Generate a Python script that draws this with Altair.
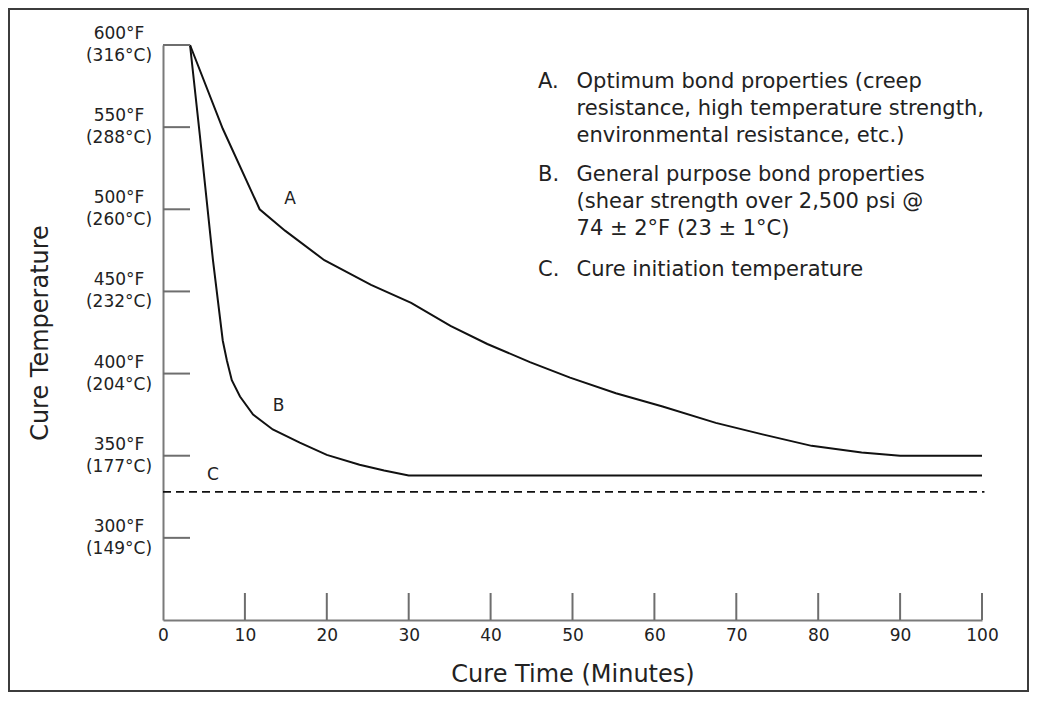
import altair as alt
import pandas as pd

# ---- data ----
time_a = [3.3, 7.3, 11.8, 14.9, 19.7, 25.4, 30.3, 35.1, 39.6, 44.8, 49.7, 55.3, 61.0, 67.5, 73.2, 79.2, 85.3, 90.0, 100.0]
temp_a = [600, 549, 500, 487, 469, 454, 443, 429, 418, 407, 397.5, 388, 380, 370, 363, 356, 352, 350, 350]

time_b = [3.3, 4.5, 6.1, 7.3, 7.8, 8.4, 9.4, 11.0, 13.4, 16.7, 20.0, 24.0, 27.0, 30.0, 100.0]
temp_b = [600, 545, 469, 420, 408, 396, 386, 375, 366, 358, 350.5, 344.5, 341, 338, 338]

cure_initiation_f = [328]

temp_ticks_f = [300, 350, 400, 450, 500, 550, 600]
temp_ticks_c = [149, 177, 204, 232, 260, 288, 316]
time_ticks = [0, 10, 20, 30, 40, 50, 60, 70, 80, 90, 100]

curve_labels = ["A", "B", "C"]
curve_label_time = [15.5, 14.1, 6.1]
curve_label_temp = [506, 380, 338]

legend_keys = ["A.", "B.", "C."]
legend_texts = [
    "Optimum bond properties (creep\nresistance, high temperature strength,\nenvironmental resistance, etc.)",
    "General purpose bond properties\n(shear strength over 2,500 psi @\n74 \u00b1 2\u00b0F (23 \u00b1 1\u00b0C)",
    "Cure initiation temperature",
]
legend_temp = [584, 527.5, 470]
legend_key_time = 45.8
legend_text_time = 50.5

# ---- tables ----
curves = pd.concat([
    pd.DataFrame({"time": time_a, "temp": temp_a, "curve": "A"}),
    pd.DataFrame({"time": time_b, "temp": temp_b, "curve": "B"}),
])
ytick_df = pd.DataFrame({
    "temp": temp_ticks_f,
    "label": [f"{f}\u00b0F\n({c}\u00b0C)" for f, c in zip(temp_ticks_f, temp_ticks_c)],
})
xtick_df = pd.DataFrame({"time": time_ticks[1:]})
clabel_df = pd.DataFrame({"time": curve_label_time, "temp": curve_label_temp, "label": curve_labels})
legend_df = pd.DataFrame({"key": legend_keys, "text": legend_texts, "temp": legend_temp,
                          "kt": [legend_key_time] * 3, "tt": [legend_text_time] * 3})
dash_df = pd.DataFrame({"temp": cure_initiation_f, "x0": [0], "x1": [100.3]})
frame_df = pd.DataFrame({"f": [0]})

W, H = 819, 575
PAD = {"left": 155, "top": 37, "right": 47, "bottom": 72}
FONT = "DejaVu Sans"
TXT = "#222222"

xscale = alt.Scale(domain=[0, 100], nice=False, zero=False)
yscale = alt.Scale(domain=[250, 600], nice=False, zero=False)

x_axis = alt.Axis(values=time_ticks, ticks=False, grid=False, domainColor="#7a7a7a", domainWidth=2,
                  labelFont=FONT, labelFontSize=17, labelColor=TXT, labelPadding=7, labelBaseline="top",
                  labelFlush=False,
                  title="Cure Time (Minutes)", titleFont=FONT, titleFontSize=24, titleFontWeight="normal",
                  titleColor=TXT, titleY=54, titleBaseline="middle")
y_axis = alt.Axis(ticks=False, labels=False, grid=False, domainColor="#7a7a7a", domainWidth=2,
                  title="Cure Temperature", titleFont=FONT, titleFontSize=24, titleFontWeight="normal",
                  titleColor=TXT, titleX=-123, titleY=H / 2, titleAngle=270, titleAlign="center",
                  titleBaseline="middle")

lines = alt.Chart(curves).mark_line(color="#111111", strokeWidth=2).encode(
    x=alt.X("time:Q", scale=xscale, axis=x_axis),
    y=alt.Y("temp:Q", scale=yscale, axis=y_axis),
    detail="curve:N",
)

dash = alt.Chart(dash_df).mark_rule(color="#111111", strokeWidth=1.6, strokeDash=[8, 5]).encode(
    x=alt.X("x0:Q", scale=xscale), x2="x1:Q", y=alt.Y("temp:Q", scale=yscale)
)

yticks = alt.Chart(ytick_df).mark_rule(color="#6e6e6e", strokeWidth=2).encode(
    y=alt.Y("temp:Q", scale=yscale), x=alt.value(0), x2=alt.value(27)
)
xticks = alt.Chart(xtick_df).mark_rule(color="#6e6e6e", strokeWidth=2).encode(
    x=alt.X("time:Q", scale=xscale), y=alt.value(H), y2=alt.value(H - 27)
)
ylabels = alt.Chart(ytick_df).mark_text(font=FONT, fontSize=17, color=TXT, align="center",
                                        baseline="middle", lineBreak="\n", lineHeight=22, dy=-11).encode(
    y=alt.Y("temp:Q", scale=yscale), x=alt.value(-44), text="label:N"
)
clabels = alt.Chart(clabel_df).mark_text(font=FONT, fontSize=17, color=TXT, align="center",
                                         baseline="middle").encode(
    x=alt.X("time:Q", scale=xscale), y=alt.Y("temp:Q", scale=yscale), text="label:N"
)
lkeys = alt.Chart(legend_df).mark_text(font=FONT, fontSize=21, color=TXT, align="left",
                                       baseline="top").encode(
    x=alt.X("kt:Q", scale=xscale), y=alt.Y("temp:Q", scale=yscale), text="key:N"
)
ltexts = alt.Chart(legend_df).mark_text(font=FONT, fontSize=21, color=TXT, align="left",
                                        baseline="top", lineBreak="\n", lineHeight=27).encode(
    x=alt.X("tt:Q", scale=xscale), y=alt.Y("temp:Q", scale=yscale), text="text:N"
)
frame = alt.Chart(frame_df).mark_rect(fillOpacity=0, stroke="#3c3c3c", strokeWidth=2).encode(
    x=alt.value(-PAD["left"] + 1), x2=alt.value(W + PAD["right"] - 1),
    y=alt.value(-PAD["top"] + 1), y2=alt.value(H + PAD["bottom"] - 1),
)

chart = alt.layer(lines, dash, yticks, xticks, ylabels, clabels, lkeys, ltexts, frame).properties(
    width=W, height=H, padding=PAD, autosize=alt.AutoSizeParams(type="none"),
    background="white",
).configure(font=FONT).configure_view(stroke="transparent", strokeWidth=0)

chart.save("out.html", embed_options={"renderer": "svg", "actions": False})
